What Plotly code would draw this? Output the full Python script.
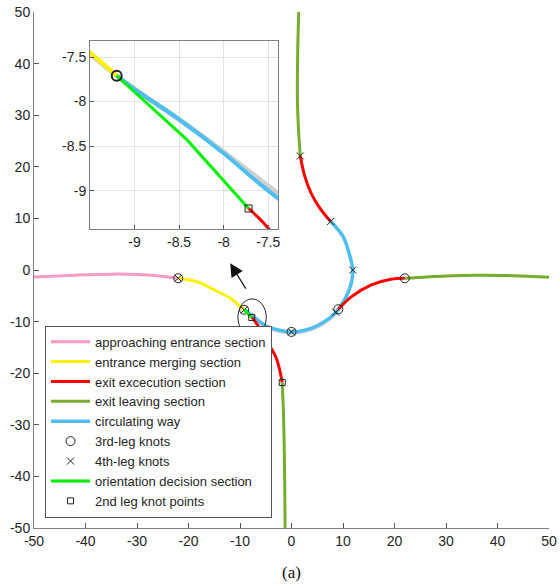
import plotly.graph_objects as go

# ---------------- data ----------------
approach_x = [-50, -42, -35, -30, -26, -22]
approach_y = [-1.35, -1.0, -0.8, -0.85, -1.1, -1.6]

entrance_x = [-22, -18, -14.9, -12, -9.5, -9.2]
entrance_y = [-1.6, -2.4, -3.9, -5.4, -7.45, -7.71]

circ_x = [-9.2, -9.0, -8.5, -8.0, -7.5, -5.2, -2.6, 0, 3.8, 6.4, 8.6, 10.6, 11.6, 11.9, 11.2, 10.0, 7.6]
circ_y = [-7.71, -7.86, -8.2, -8.58, -9.0, -10.7, -11.6, -12.0, -11.3, -10.0, -8.2, -5.2, -2.6, 0.0, 3.2, 6.5, 9.4]

ref3_x = [-9.6, -9.2, -9.0, -8.5, -8.0, -7.39, -5.2, -2.6, 0, 3.8, 6.4, 8.6, 9.1]
ref3_y = [-7.38, -7.71, -7.86, -8.2, -8.565, -9.035, -10.8, -11.75, -12.15, -11.5, -10.2, -8.3, -7.6]

orient_x = [-9.2, -8.41, -7.72]
orient_y = [-7.71, -8.43, -9.2]

exit_s_x = [-7.72, -7.5, -6.5, -4.9, -2.95, -1.8]
exit_s_y = [-9.2, -9.42, -10.8, -13.6, -17.1, -21.8]
leave_s_x = [-1.8, -1.55, -1.4, -1.3, -1.25]
leave_s_y = [-21.8, -28, -35, -43, -50]

exit_n_x = [7.6, 5.5, 3.8, 2.6, 1.7]
exit_n_y = [9.4, 12.0, 14.9, 18.1, 22.1]
leave_n_x = [1.7, 1.4, 1.15, 1.2, 1.4]
leave_n_y = [22.1, 26.5, 33, 42, 50]

exit_e_x = [9.1, 11.6, 15.5, 19.3, 22]
exit_e_y = [-7.6, -5.2, -2.9, -1.8, -1.6]
leave_e_x = [22, 30, 36, 43, 50]
leave_e_y = [-1.6, -1.15, -1.0, -1.1, -1.4]

knot3_x = [-22, -9.2, 0, 9.1, 22]
knot3_y = [-1.6, -7.71, -12.0, -7.6, -1.6]
knot4_x = [-22, -9.2, 0, 8.6, 11.9, 7.6, 1.7]
knot4_y = [-1.6, -7.71, -12.0, -8.2, 0.0, 9.4, 22.1]
knot2_x = [-7.72, -1.8]
knot2_y = [-9.2, -21.8]

main_ticks = [-50, -40, -30, -20, -10, 0, 10, 20, 30, 40, 50]
main_ticktext = ["-50", "-40", "-30", "-20", "-10", "0", "10", "20", "30", "40", "50"]
inset_ticks = [-9, -8.5, -8, -7.5]
inset_ticktext = ["-9", "-8.5", "-8", "-7.5"]

labels = ["approaching entrance section", "entrance merging section",
          "exit excecution section", "exit leaving section", "circulating way",
          "3rd-leg knots", "4th-leg knots", "orientation decision section",
          "2nd leg knot points"]

PINK = "#F39BC2"
YELLOW = "#FFF200"
RED = "#FF0000"
OLIVE = "#77AC30"
BLUE = "#4DBEEE"
LIME = "#00F000"
GRAY = "#CFCFCF"

fig = go.Figure()


def line(x, y, color, width, name=None, show=False, xa="x", ya="y", shape="spline"):
    fig.add_trace(go.Scatter(x=x, y=y, mode="lines", name=name, showlegend=show,
                             line=dict(color=color, width=width, shape=shape),
                             xaxis=xa, yaxis=ya, hoverinfo="skip"))


def markers(x, y, symbol, size, lw, name=None, show=False, xa="x", ya="y"):
    fig.add_trace(go.Scatter(x=x, y=y, mode="markers", name=name, showlegend=show,
                             marker=dict(symbol=symbol, size=size, color="#222",
                                         line=dict(color="#222", width=lw)),
                             xaxis=xa, yaxis=ya, hoverinfo="skip"))


# ---------- main axes ----------
line(ref3_x, ref3_y, GRAY, 4)
line(approach_x, approach_y, PINK, 3, labels[0], True)
line(entrance_x, entrance_y, YELLOW, 3, labels[1], True)
line(exit_n_x, exit_n_y, RED, 3, labels[2], True)
line(leave_n_x, leave_n_y, OLIVE, 3, labels[3], True)
line(circ_x, circ_y, BLUE, 3.5, labels[4], True)
line(exit_s_x, exit_s_y, RED, 3)
line(exit_e_x, exit_e_y, RED, 3)
line(leave_s_x, leave_s_y, OLIVE, 3)
line(leave_e_x, leave_e_y, OLIVE, 3)
markers(knot3_x, knot3_y, "circle-open", 9, 1, labels[5], True)
markers(knot4_x, knot4_y, "x-thin-open", 7, 1, labels[6], True)
line(orient_x, orient_y, LIME, 3, labels[7], True, shape="linear")
markers(knot2_x, knot2_y, "square-open", 6, 1, labels[8], True)

# ---------- inset axes ----------
line(ref3_x, ref3_y, GRAY, 5, xa="x2", ya="y2")
line(entrance_x, entrance_y, YELLOW, 4, xa="x2", ya="y2")
line(circ_x, circ_y, BLUE, 4, xa="x2", ya="y2")
line(orient_x, orient_y, LIME, 3, xa="x2", ya="y2", shape="linear")
line(exit_s_x, exit_s_y, RED, 3, xa="x2", ya="y2")
markers(knot3_x, knot3_y, "circle-open", 10, 2, xa="x2", ya="y2")
markers(knot2_x, knot2_y, "square-open", 7, 1, xa="x2", ya="y2")

axis_common = dict(showgrid=False, zeroline=False, showline=True, linecolor="#808080",
                   linewidth=1, ticks="inside", ticklen=5, tickcolor="#555", automargin=False,
                   ticklabeloverflow="allow", tickfont=dict(size=14, color="#262626"))
inset_common = dict(showgrid=True, gridcolor="#e3e3e3", zeroline=False, showline=True, mirror=True,
                    linecolor="#808080", ticks="inside", ticklen=4, tickcolor="#555", automargin=False,
                    ticklabeloverflow="allow", tickfont=dict(size=14, color="#262626"))

fig.update_layout(
    width=560, height=588,
    margin=dict(l=34, r=11, t=12, b=60),
    paper_bgcolor="white", plot_bgcolor="white",
    font=dict(family="Arial, Liberation Sans, sans-serif", color="#262626"),
    xaxis=dict(range=[-50, 50], tickvals=main_ticks, ticktext=main_ticktext, domain=[0, 1],
               anchor="y", **axis_common),
    yaxis=dict(range=[-50, 50], tickvals=main_ticks, ticktext=main_ticktext, domain=[0, 1],
               anchor="x", **axis_common),
    xaxis2=dict(range=[-9.5, -7.39], tickvals=inset_ticks, ticktext=inset_ticktext,
                domain=[0.1087, 0.4738], anchor="y2", **inset_common),
    yaxis2=dict(range=[-9.43, -7.32], tickvals=inset_ticks, ticktext=inset_ticktext,
                domain=[0.5795, 0.9438], anchor="x2", **inset_common),
    legend=dict(x=0.0214, y=0.02, xanchor="left", yanchor="bottom",
                bgcolor="white", bordercolor="#555", borderwidth=1, itemwidth=39,
                font=dict(size=13, color="#262626"), tracegroupgap=0),
    showlegend=True,
)

# ellipse around the zoomed region
fig.add_shape(type="circle", xref="x", yref="y", x0=-10.4, x1=-4.9, y0=-12.8, y1=-5.6,
              line=dict(color="#222", width=1))

# arrow pointing to the inset
fig.add_annotation(x=-11.9, y=1.3, ax=-8.7, ay=-3.9, xref="x", yref="y", axref="x", ayref="y",
                   text="", showarrow=True, arrowhead=2, arrowsize=2.2, arrowwidth=1.2,
                   arrowcolor="#111")

# caption
fig.add_annotation(x=0.5, y=-0.0853, xref="paper", yref="paper", text="(a)", showarrow=False,
                   font=dict(family="Times New Roman, Liberation Serif, serif", size=17, color="#111"),
                   yanchor="middle")

# remove the default 8px page margin so the 560x588 figure fills the window exactly
fig.write_html("out.html", config={"displayModeBar": False},
               post_script="document.body.style.margin='0px';")
